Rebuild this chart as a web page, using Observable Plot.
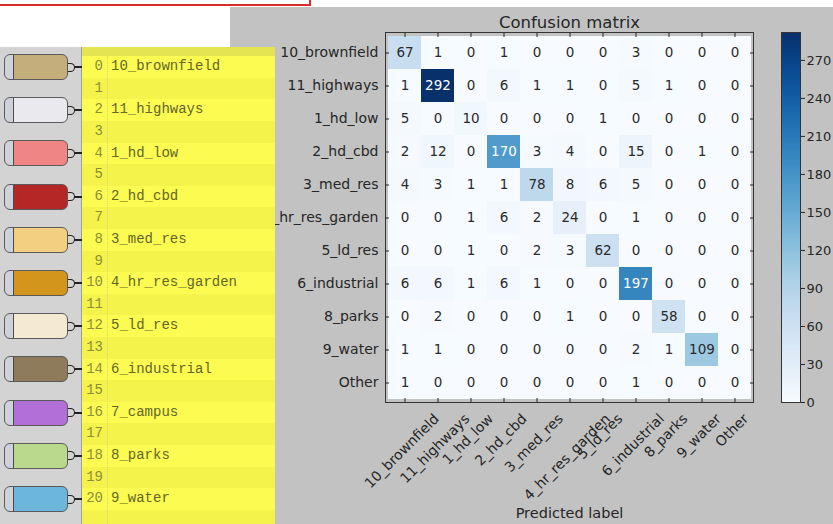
<!DOCTYPE html>
<html><head><meta charset="utf-8">
<script src="https://cdn.jsdelivr.net/npm/d3@7"></script>
<script src="https://cdn.jsdelivr.net/npm/@observablehq/plot@0.6"></script>
<style>
body{margin:0;background:#fff;}
#stage{position:relative;width:833px;height:524px;overflow:hidden;background:#fff;font-family:"DejaVu Sans",sans-serif;}
.abs{position:absolute;}
#gray{left:230px;top:7px;width:603px;height:517px;background:#c2c2c2;}
#redbox{left:-4px;top:-20px;width:311px;height:22px;border:2px solid #dc2a2a;}
#nodes{left:0;top:47px;width:82px;height:477px;background:#d3d3d3;border-right:1px solid #9d9d9d;box-sizing:border-box;}
#list{left:82px;top:47px;width:193px;height:477px;background:#fbfb4f;overflow:hidden;}
#list .hdr{position:absolute;left:0;top:0;width:193px;height:9px;background:#e4e452;}
#list .row{position:absolute;left:0;width:193px;height:21.6px;}
#list .idx{position:absolute;left:0;width:21px;text-align:right;font-family:"Liberation Mono",monospace;font-size:14px;line-height:21.6px;color:#8d8d3c;}
#list .lab{position:absolute;left:29px;font-family:"Liberation Mono",monospace;font-size:14px;line-height:21.6px;color:#666628;white-space:pre;}
#list .sep{position:absolute;left:25px;top:9px;width:0;height:470px;border-left:1px dotted #d8d86a;}
.pill{position:absolute;left:4px;width:64px;height:26px;border:1px solid #5a5a5a;border-radius:6px;box-sizing:border-box;}
.port{position:absolute;left:68px;width:7px;height:9px;border:1.5px solid #222;border-left:none;border-radius:0 6px 6px 0;box-sizing:border-box;background:#d3d3d3;}
.wire{position:absolute;left:74px;width:8px;height:2px;background:#222;}
</style></head><body>
<div id="stage"></div>
<script>
// ---- data ----
const classes = ["10_brownfield","11_highways","1_hd_low","2_hd_cbd","3_med_res","4_hr_res_garden","5_ld_res","6_industrial","8_parks","9_water","Other"];
const counts = [
  [67, 1, 0, 1, 0, 0, 0, 3, 0, 0, 0],
  [1, 292, 0, 6, 1, 1, 0, 5, 1, 0, 0],
  [5, 0, 10, 0, 0, 0, 1, 0, 0, 0, 0],
  [2, 12, 0, 170, 3, 4, 0, 15, 0, 1, 0],
  [4, 3, 1, 1, 78, 8, 6, 5, 0, 0, 0],
  [0, 0, 1, 6, 2, 24, 0, 1, 0, 0, 0],
  [0, 0, 1, 0, 2, 3, 62, 0, 0, 0, 0],
  [6, 6, 1, 6, 1, 0, 0, 197, 0, 0, 0],
  [0, 2, 0, 0, 0, 1, 0, 0, 58, 0, 0],
  [1, 1, 0, 0, 0, 0, 0, 2, 1, 109, 0],
  [1, 0, 0, 0, 0, 0, 0, 1, 0, 0, 0]
];
const colorbarTicks = [0, 30, 60, 90, 120, 150, 180, 210, 240, 270];
const panelLabels = ["10_brownfield","","11_highways","","1_hd_low","","2_hd_cbd","","3_med_res","","4_hr_res_garden","","5_ld_res","","6_industrial","","7_campus","","8_parks","","9_water"];
// styles (kept apart from the data)
const pillColors = ["#c4ae7c","#e9e9ee","#ef8585","#b52626","#f3cf82","#d4951c","#f4ead2","#8d7b5c","#b26fd8","#bad98c","#6cb6dc"];

const stage = document.getElementById("stage");
function add(el){ stage.appendChild(el); return el; }
function div(cls, id){ const d=document.createElement("div"); d.className=cls; if(id) d.id=id; return d; }

add(div("abs","gray"));

const cells = counts.flatMap((row, i) => row.map((v, j) => ({truth: classes[i], pred: classes[j], value: v})));
const maxCount = d3.max(cells, d => d.value);

const main = Plot.plot({
  width: 603, height: 516,
  marginLeft: 155, marginRight: 80, marginTop: 24, marginBottom: 122,
  style: {background: "transparent", fontFamily: "DejaVu Sans", fontSize: "14px", color: "#262626", overflow: "visible"},
  x: {domain: classes, padding: 0, axis: null},
  y: {domain: classes, padding: 0, axis: null},
  color: {type: "linear", scheme: "blues", domain: [0, maxCount]},
  marks: [
    Plot.cell(cells, {x: "pred", y: "truth", fill: "value", inset: 0}),
    Plot.text(cells.filter(d => d.value <= maxCount / 2), {x: "pred", y: "truth", text: d => String(d.value), fill: "#2a2a2a", fontSize: 13.5}),
    Plot.text(cells.filter(d => d.value > maxCount / 2), {x: "pred", y: "truth", text: d => String(d.value), fill: "white", fontSize: 13.5}),
    Plot.frame({stroke: "#333"}),
    Plot.axisY({anchor: "left", tickSize: -4, tickPadding: 11, label: null, fontSize: 14}),
    Plot.axisY({anchor: "right", tickSize: -4, tickFormat: () => "", label: null}),
    Plot.axisX({anchor: "top", tickSize: -4, tickFormat: () => "", label: null}),
    Plot.axisX({anchor: "bottom", tickSize: -4, tickPadding: 11, tickRotate: -45, textAnchor: "middle", lineAnchor: "middle", label: null, fontSize: 14}),
    Plot.text(["Confusion matrix"], {frameAnchor: "top", dy: -16, fontSize: 16.5}),
    Plot.text(["Predicted label"], {frameAnchor: "bottom", dy: 115, fontSize: 14.5})
  ]
});
main.classList.add("abs");
main.style.left = "230px"; main.style.top = "8px";
add(main);

// matplotlib-style centred rotated labels: push each label down by half its rotated height
d3.select(main).selectAll('g[aria-label="x-axis tick label"] text').each(function() {
  const L = this.getComputedTextLength();
  const h = (L + 14) * Math.SQRT1_2;
  const old = this.getAttribute("transform") || "";
  this.setAttribute("transform", `translate(-3,${h / 2 + 2}) ${old}`);
});

const cb = Plot.plot({
  width: 63, height: 516,
  marginLeft: 11, marginRight: 33, marginTop: 24, marginBottom: 122,
  style: {background: "transparent", fontFamily: "DejaVu Sans", fontSize: "13px", color: "#262626", overflow: "visible"},
  x: {domain: [0, 1], axis: null},
  y: {domain: [0, maxCount], axis: null},
  color: {type: "linear", scheme: "blues", domain: [0, maxCount]},
  marks: [
    Plot.raster({x1: 0, x2: 1, y1: 0, y2: maxCount, width: 1, height: 300, fill: (x, y) => y, imageRendering: "auto"}),
    Plot.frame({stroke: "#333"}),
    Plot.axisY({anchor: "right", ticks: colorbarTicks, tickSize: 4, tickPadding: 2, label: null, fontSize: 13})
  ]
});
cb.classList.add("abs");
cb.style.left = "770px"; cb.style.top = "8px";
add(cb);

// left node panel
const nodes = add(div("abs", "nodes"));
pillColors.forEach((c, k) => {
  const cy = 20 + 43.2 * k;
  const p = div("pill");
  p.style.top = (cy - 13) + "px";
  p.style.background = `linear-gradient(to right, #cfd1db 0 8px, #4a4a4a 8px 9px, ${c} 9px)`;
  nodes.appendChild(p);
  const port = div("port"); port.style.top = (cy - 4.5) + "px"; nodes.appendChild(port);
  const w = div("wire"); w.style.top = (cy - 1) + "px"; nodes.appendChild(w);
});

// yellow list panel
const list = add(div("abs", "list"));
list.appendChild(div("hdr"));
for (let i = 0; i < 22; i++) {
  const r = div("row");
  r.style.top = (9.2 + 21.6 * i) + "px";
  r.style.background = i % 2 ? "#f3f34b" : "#fbfb52";
  if (i < panelLabels.length) {
    const a = document.createElement("span"); a.className = "idx"; a.textContent = String(i);
    const b = document.createElement("span"); b.className = "lab"; b.textContent = panelLabels[i];
    r.appendChild(a); r.appendChild(b);
  }
  list.appendChild(r);
}
list.appendChild(div("sep"));

add(div("abs", "redbox"));
</script>
</body></html>
